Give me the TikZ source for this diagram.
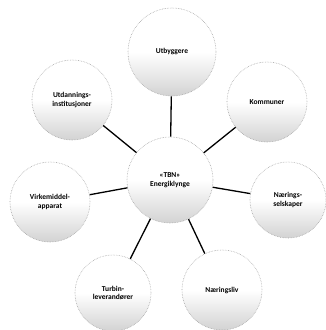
\documentclass[tikz,border=0pt]{standalone}
\usepackage{fontspec}
\setmainfont{Carlito}
\begin{document}
\begin{tikzpicture}[x=1pt,y=-1pt,
  bubble/.style={circle, draw=gray!70, densely dotted, line width=0.6pt,
    top color=white, bottom color=gray!35, middle color=white,
    font=\bfseries\fontsize{7.5}{8.5}\selectfont, align=center, inner sep=0pt},
  link/.style={line width=1.3pt, black}]
\useasboundingbox (0,0) rectangle (326,330);
\node[bubble, minimum size=88pt] (ut) at (172,52) {Utbyggere};
\node[bubble, minimum size=80pt] (ko) at (267,102) {Kommuner};
\node[bubble, minimum size=80pt] (ud) at (72,100) {Utdannings-\\institusjoner};
\node[bubble, minimum size=86pt] (c) at (170,180) {«TBN»\\Energiklynge};
\node[bubble, minimum size=80pt] (vi) at (50,202) {Virkemiddel-\\apparat};
\node[bubble, minimum size=76pt] (na) at (288,200) {Nærings-\\selskaper};
\node[bubble, minimum size=76pt] (tu) at (113,293) {Turbin-\\leverandører};
\node[bubble, minimum size=80pt] (nl) at (222,290) {Næringsliv};
\foreach \n in {ut,ko,ud,vi,na,tu,nl} \draw[link] (c) -- (\n);
\end{tikzpicture}
\end{document}
